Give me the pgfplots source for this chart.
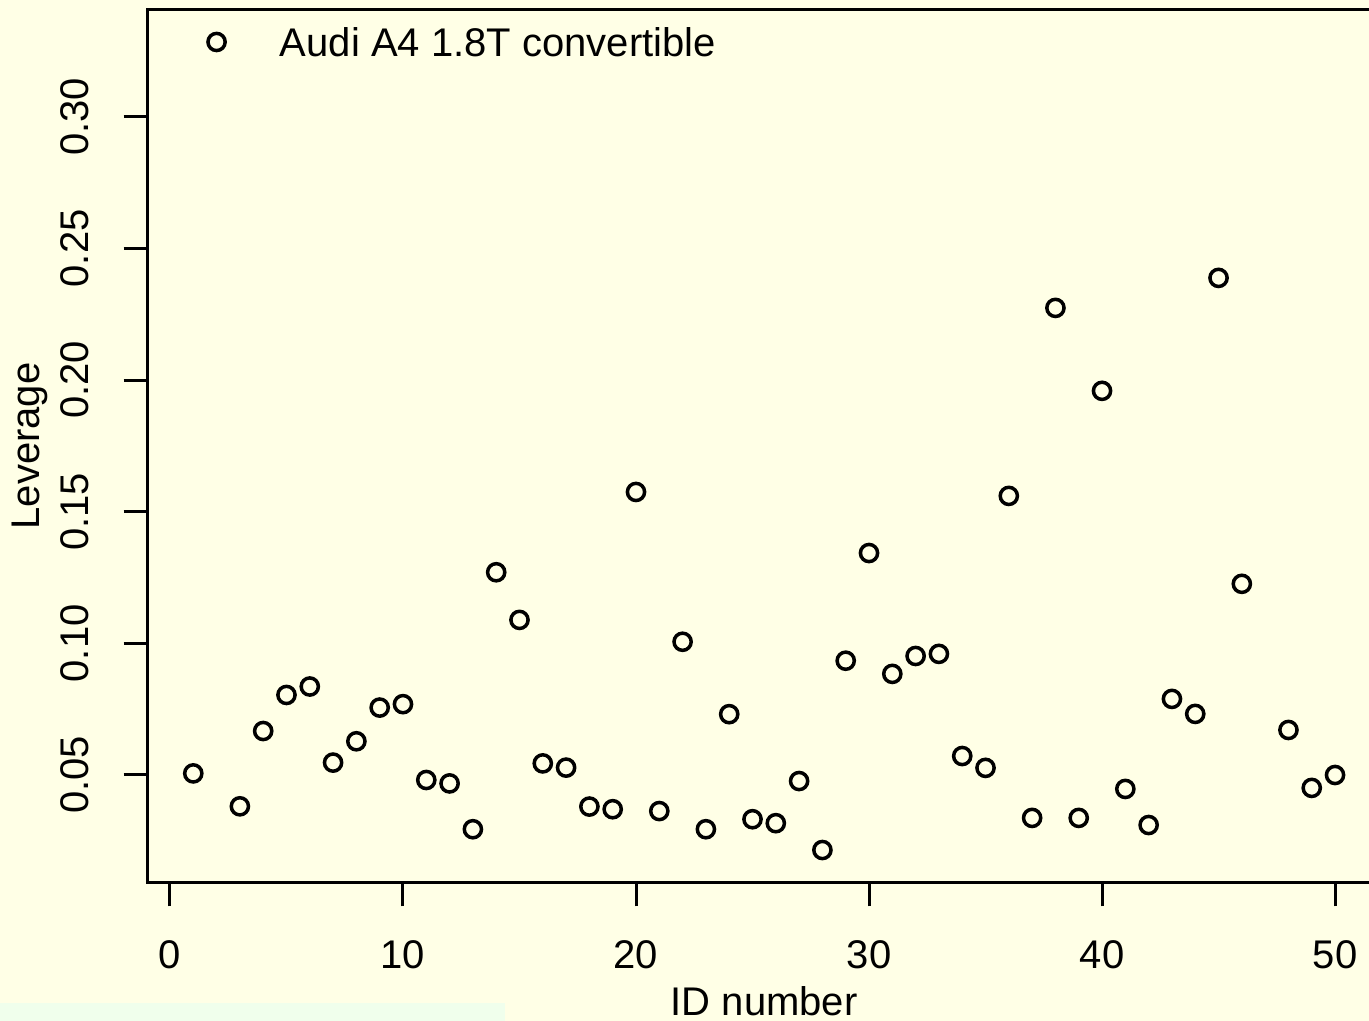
\documentclass[border=0pt]{standalone}
\usepackage{pgfplots}
\pgfplotsset{compat=1.18}
\usepackage{fontspec}
\setmainfont{Liberation Sans}
\definecolor{bgyellow}{RGB}{255,255,230}
\definecolor{stripgreen}{RGB}{240,255,236}
\pgfplotstableread{
id lev
1 0.0506
2 0.3284
3 0.0381
4 0.0667
5 0.0804
6 0.0836
7 0.0547
8 0.0628
9 0.0756
10 0.0769
11 0.0481
12 0.0468
13 0.0294
14 0.1270
15 0.1089
16 0.0544
17 0.0528
18 0.0380
19 0.0370
20 0.1575
21 0.0363
22 0.1006
23 0.0294
24 0.0731
25 0.0332
26 0.0317
27 0.0477
28 0.0215
29 0.0934
30 0.1343
31 0.0884
32 0.0952
33 0.0960
34 0.0572
35 0.0527
36 0.1560
37 0.0337
38 0.2274
39 0.0337
40 0.1959
41 0.0447
42 0.0310
43 0.0789
44 0.0732
45 0.2388
46 0.1226
48 0.0671
49 0.0451
50 0.0500
}\levtable
\begin{document}
\begin{tikzpicture}
\fill[bgyellow] (0,0) rectangle (684.5pt,-510.5pt);
\fill[stripgreen] (0,-501.5pt) rectangle (252.5pt,-510.5pt);
\path[use as bounding box] (0,0) rectangle (684.5pt,-510.5pt);
\clip (0,0) rectangle (684.5pt,-510.5pt);
\begin{axis}[
  at={(73.8pt,-441.2pt)}, anchor=south west,
  scale only axis,
  width=616.55pt, height=436.4pt,
  xmin=-0.96, xmax=51.96,
  ymin=0.0092, ymax=0.3407,
  axis line style={line width=1.5pt, black},
  every tick/.style={line width=1.5pt, black},
  tick align=outside,
  major tick length=12pt,
  tick pos=left,
  xtick={0,10,20,30,40,50},
  ytick={0.05,0.10,0.15,0.20,0.25,0.30},
  /pgf/number format/assume math mode=true,
  ticklabel style={font=\fontsize{20pt}{24pt}\selectfont},
  label style={font=\fontsize{20pt}{24pt}\selectfont},
  xticklabel style={yshift=-13.5pt},
  yticklabel style={/pgf/number format/.cd, fixed, fixed zerofill, precision=2, /tikz/.cd, xshift=-14pt, rotate=90},
  xlabel={ID number},
  ylabel={Leverage},
  xlabel style={at={(axis description cs:0.5,-0.152)}, anchor=base},
  ylabel style={at={(axis description cs:-0.0873,0.5)}, anchor=base, rotate=0},
]
\addplot[only marks, mark=o, mark size=4.3pt, mark options={line width=1.75pt, black}] table[x=id, y=lev] {\levtable};
\node[anchor=west, inner sep=0pt, xshift=31.5pt, font=\fontsize{20pt}{24pt}\selectfont] at (axis cs:2,0.3284) {Audi A4 1.8T convertible};
\end{axis}
\end{tikzpicture}
\end{document}
